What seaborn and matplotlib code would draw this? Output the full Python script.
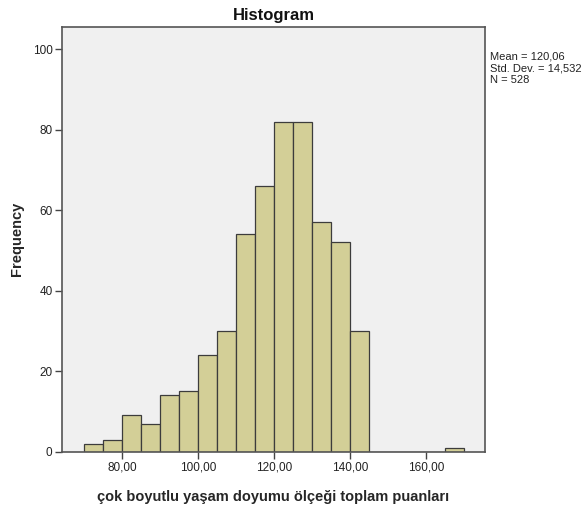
import numpy as np
import pandas as pd
import seaborn as sns
import matplotlib
matplotlib.use("Agg")
import matplotlib.pyplot as plt

# bin edges (width 5) and frequencies
bin_edges = [70, 75, 80, 85, 90, 95, 100, 105, 110, 115, 120, 125, 130, 135, 140, 145,
             150, 155, 160, 165, 170]
counts = [2, 3, 9, 7, 14, 15, 24, 30, 54, 66, 82, 82, 57, 52, 30, 0, 0, 0, 0, 1]
x_ticks = [80, 100, 120, 140, 160]
y_ticks = [0, 20, 40, 60, 80, 100]
stats_text = "Mean = 120,06\nStd. Dev. = 14,532\nN = 528"

df = pd.DataFrame({
    "score": [(a + b) / 2 for a, b in zip(bin_edges[:-1], bin_edges[1:])],
    "count": counts,
})

sns.set_style("ticks")
plt.rcParams["font.family"] = ["Liberation Sans", "DejaVu Sans"]

fig = plt.figure(figsize=(5.87, 5.07), dpi=100)
ax = fig.add_axes([0.106, 0.109, 0.72, 0.838])
ax.set_facecolor("#f0f0f0")

sns.histplot(data=df, x="score", weights="count", bins=bin_edges, ax=ax,
             color="#d3cf97", alpha=1, edgecolor="#3c3c3c", linewidth=0.9)

ax.set_xlim(64.2, 175.5)
ax.set_ylim(0, 105.5)
ax.set_xticks(x_ticks)
ax.set_xticklabels([f"{v},00" for v in x_ticks], fontsize=8.5, color="#222222")
ax.set_yticks(y_ticks)
ax.set_yticklabels([str(v) for v in y_ticks], fontsize=8.5, color="#222222")
ax.tick_params(axis="both", length=5, width=1, color="#444444", pad=2)

for s in ax.spines.values():
    s.set_visible(True)
    s.set_color("#555555")
    s.set_linewidth(1.2)

ax.set_title("Histogram", fontsize=12, fontweight="bold", pad=5, color="#111111")
ax.set_xlabel("çok boyutlu yaşam doyumu ölçeği toplam puanları", fontsize=10.5,
              fontweight="bold", labelpad=12)
ax.set_ylabel("Frequency", fontsize=10.5, fontweight="bold", labelpad=6)

fig.text(0.835, 0.898, stats_text, fontsize=8, va="top", ha="left",
         color="#222222", linespacing=1.2)

fig.savefig("out.png", dpi=100, facecolor="white")
